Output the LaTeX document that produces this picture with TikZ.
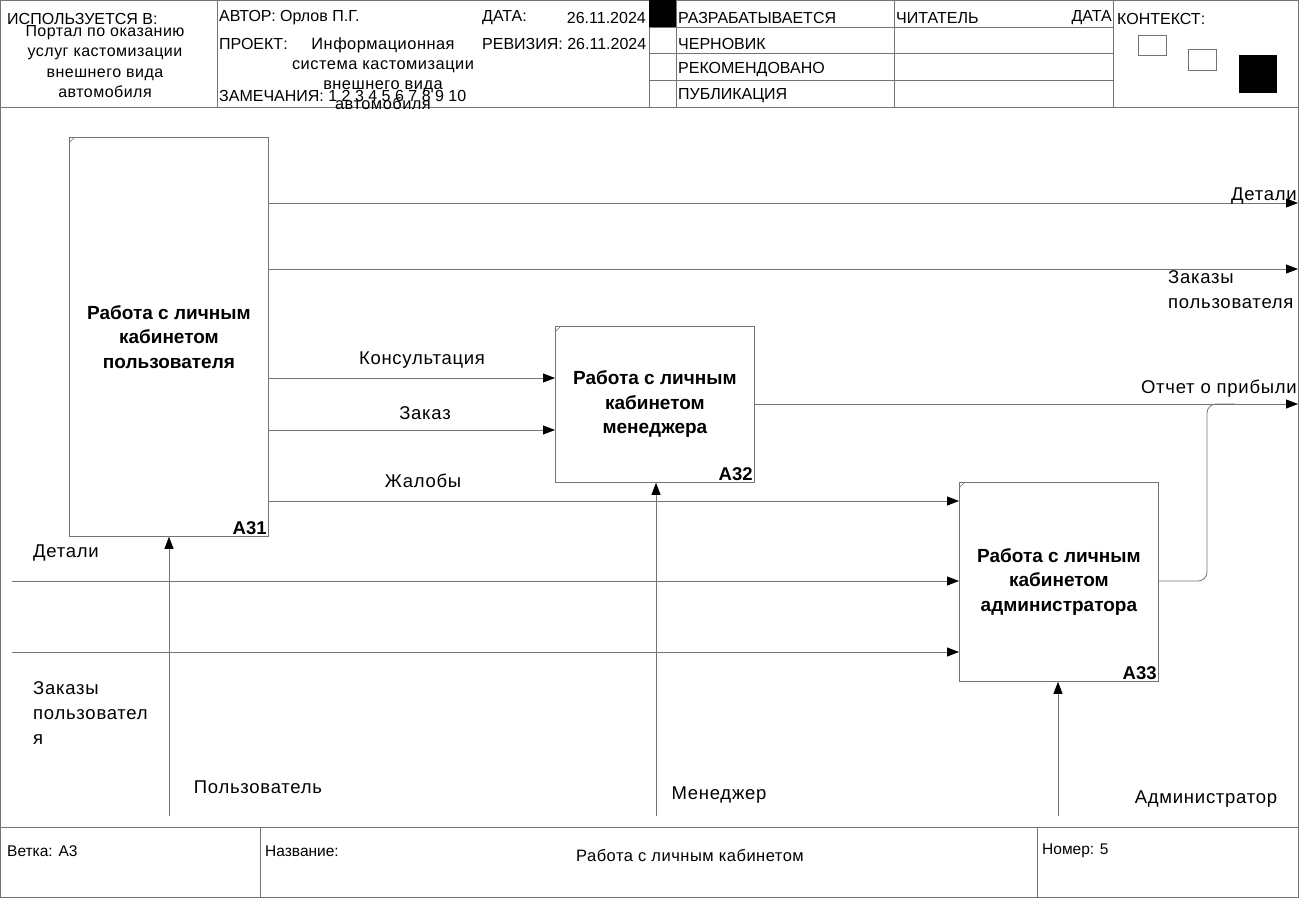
\documentclass[tikz,border=0pt]{standalone}
\usepackage{fontspec}
\setmainfont{Liberation Sans}
\usetikzlibrary{positioning,arrows.meta}

\tikzset{
  frameline/.style={draw=black!55, line width=0.8pt},
  fnbox/.style={draw=black!55, line width=0.8pt, fill=white, align=center,
    font=\bfseries\fontsize{19}{24.5}\selectfont, inner sep=0pt, anchor=north west},
  flow/.style={draw=black!55, line width=0.8pt, -{Triangle[length=12pt,width=9pt,color=black]}},
  lbl/.style={font=\addfontfeatures{LetterSpace=4}\fontsize{18.5}{25}\selectfont, inner sep=0pt},
  hdr/.style={font=\fontsize{16}{20.5}\selectfont, inner sep=0pt, anchor=west},
  ftr/.style={font=\fontsize{15.5}{16}\selectfont, inner sep=0pt, anchor=west},
}
% number in the corner and the small tick of a box
\newcommand{\boxtag}[2]{
  \node[font=\bfseries\fontsize{18.5}{18}\selectfont, anchor=south east, inner sep=2pt] (#1n) at (#1.south east) {#2};
  \draw[black!55, line width=0.4pt] ([yshift=-6pt]#1.north west) -- ([xshift=6pt]#1.north west);
}

\begin{document}
\begin{tikzpicture}[x=1pt, y=-1pt]
\useasboundingbox (0,0) rectangle (1299,898);
% frame
\draw[frameline] (0.5,0.5) rectangle (1298,897);
\draw[frameline] (0,107) -- (1298,107);
\draw[frameline] (0,827) -- (1298,827);
\foreach \xx in {217,649,676,894,1113}
  \draw[frameline] (\xx,0) -- (\xx,107);
\foreach \yy in {27,53,80}
  \draw[frameline] (649,\yy) -- (1113,\yy);
\fill (649,0) rectangle (676,27);
\foreach \xx in {260,1037}
  \draw[frameline] (\xx,827) -- (\xx,897);
% context
\draw[frameline] (1138,35) rectangle (1166,55);
\draw[frameline] (1188,49) rectangle (1216,70);
\fill (1239,55) rectangle (1277,93);

% header texts
\node[hdr] (used) at (7,19) {ИСПОЛЬЗУЕТСЯ В:};
\node[hdr, anchor=north, align=center, font=\addfontfeatures{LetterSpace=3}\fontsize{16}{20.5}\selectfont] (usedin) at (105,25)
  {Портал по оказанию\\услуг кастомизации\\внешнего вида\\автомобиля};
\node[hdr] (author) at (219,18) {АВТОР: Орлов П.Г.};
\node[hdr] (proj) at (219,44) {ПРОЕКТ:};
\node[hdr, anchor=north, align=center, font=\addfontfeatures{LetterSpace=3}\fontsize{16.4}{20.2}\selectfont] (projname) at (383,37)
  {Информационная\\система кастомизации\\внешнего вида\\автомобиля};
\node[hdr] (notes) at (219,96) {ЗАМЕЧАНИЯ: 1 2 3 4 5 6 7 8 9 10};
\node[hdr] (date) at (482,18) {ДАТА:};
\node[hdr, anchor=east] (dateval) at (646,18) {26.11.2024};
\node[hdr] (rev) at (482,44) {РЕВИЗИЯ: 26.11.2024};
\foreach \yy/\txt in {18/РАЗРАБАТЫВАЕТСЯ,44/ЧЕРНОВИК,70/РЕКОМЕНДОВАНО,96/ПУБЛИКАЦИЯ}
  \node[hdr] (st\yy) at (678,\yy) {\txt};
\node[hdr] (reader) at (896,18) {ЧИТАТЕЛЬ};
\node[hdr, anchor=east] (rdate) at (1112,18) {ДАТА};
\node[hdr] (context) at (1117,19) {КОНТЕКСТ:};

% footer texts
\node[ftr] (node) at (7,851) {Ветка: А3};
\node[ftr] (title) at (265,851) {Название:};
\node[ftr, anchor=center, font=\addfontfeatures{LetterSpace=3}\fontsize{16.5}{16}\selectfont] (titlename) at (690,856) {Работа с личным кабинетом};
\node[ftr] (number) at (1042,851) {Номер: 5};

% boxes
\node[fnbox, minimum width=199pt, minimum height=399pt] (a31) at (69,137) {Работа с личным\\кабинетом\\пользователя};
\node[fnbox, minimum width=199pt, minimum height=156pt] (a32) at (555,326) {Работа с личным\\кабинетом\\менеджера};
\node[fnbox, minimum width=199pt, minimum height=199pt] (a33) at (959,482) {Работа с личным\\кабинетом\\администратора};
\boxtag{a31}{A31}
\boxtag{a32}{A32}
\boxtag{a33}{A33}

% free ends
\coordinate (o1) at (1298,203);
\coordinate (o2) at (1298,269);
\coordinate (o3) at (1298,404);
\coordinate (i1) at (12,581);
\coordinate (i2) at (12,652);
\coordinate (m1) at (169,816);
\coordinate (m2) at (656,816);
\coordinate (m3) at (1058,816);

% arrows
\draw[flow] (a31.east |- o1) -- (o1);
\draw[flow] (a31.east |- o2) -- (o2);
\draw[flow] (a31.east |- 0,378) -- (a32.west |- 0,378);
\draw[flow] (a31.east |- 0,430) -- (a32.west |- 0,430);
\draw[flow] (a31.east |- 0,501) -- (a33.west |- 0,501);
\draw[flow] (a32.east |- o3) -- (o3);
\draw[frameline, rounded corners=9pt] (a33.east |- i1) -- (1207,581) -- (1207,404) -- (1235,404);
\draw[flow] (i1) -- (a33.west |- i1);
\draw[flow] (i2) -- (a33.west |- i2);
\draw[flow] (m1) -- (m1 |- a31.south);
\draw[flow] (m2) -- (m2 |- a32.south);
\draw[flow] (m3) -- (m3 |- a33.south);

% labels
\node[lbl, anchor=east] (lo1) at (1297,196) {Детали};
\node[lbl, anchor=north west, align=left] (lo2) at (1168,270) {Заказы\\пользователя};
\node[lbl, anchor=east] (lo3) at (1297,389) {Отчет о прибыли};
\node[lbl] (lc1) at (422,360) {Консультация};
\node[lbl] (lc2) at (425,413) {Заказ};
\node[lbl] (lc3) at (423,481) {Жалобы};
\node[lbl, anchor=west] (li1) at (33,553) {Детали};
\node[lbl, anchor=north west, align=left] (li2) at (33,681) {Заказы\\пользовател\\я};
\node[lbl] (lm1) at (258,787) {Пользователь};
\node[lbl] (lm2) at (719,795) {Менеджер};
\node[lbl] (lm3) at (1206,799) {Администратор};
\end{tikzpicture}
\end{document}
